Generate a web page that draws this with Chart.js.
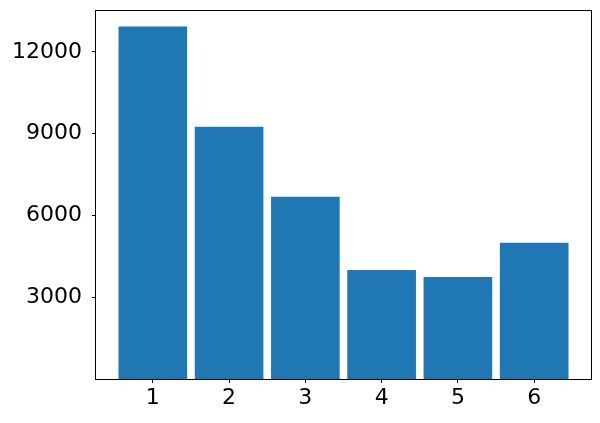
<!DOCTYPE html>
<html>
<head>
<meta charset="utf-8">
<script src="https://cdn.jsdelivr.net/npm/chart.js@4"></script>
<style>
  html, body { margin: 0; padding: 0; background: #fff; }
  #wrap { width: 600px; height: 423px; position: relative; }
</style>
</head>
<body>
<div id="wrap"><canvas id="chart"></canvas></div>
<script>
const categories = [1, 2, 3, 4, 5, 6];
const values = [12930, 9255, 6685, 4000, 3745, 4995];
const yTicks = [3000, 6000, 9000, 12000];

// draws the box round the plot like matplotlib
const frame = {
    id: 'frame',
    afterDraw(chart) {
        const { ctx, chartArea: a } = chart;
        ctx.save();
        ctx.strokeStyle = '#000';
        ctx.lineWidth = 1;
        ctx.strokeRect(Math.round(a.left) - 0.5, Math.round(a.top) + 0.5,
            Math.round(a.right - a.left) + 1, Math.round(a.bottom - a.top));
        ctx.restore();
    }
};

const tickFont = { family: 'DejaVu Sans', size: 22 };

new Chart(document.getElementById('chart'), {
    type: 'bar',
    data: {
        datasets: [{
            data: categories.map((c, i) => ({ x: c, y: values[i] })),
            backgroundColor: '#1f77b4',
            borderWidth: 0,
            barPercentage: 0.9,
            categoryPercentage: 1
        }]
    },
    options: {
        responsive: true,
        maintainAspectRatio: false,
        animation: false,
        layout: { padding: { left: 0, right: 9, top: 10, bottom: 0 } },
        plugins: { legend: { display: false }, tooltip: { enabled: false } },
        scales: {
            x: {
                type: 'linear',
                min: 0.255,
                max: 6.745,
                offset: false,
                afterBuildTicks: (scale) => { scale.ticks = categories.map(v => ({ value: v })); },
                afterFit: (scale) => {
                    scale.height = 44;
                    scale.paddingLeft = 0;
                    scale.paddingRight = 0;
                },
                grid: { display: true, offset: false, drawOnChartArea: false, tickLength: 4, tickColor: '#000' },
                border: { display: false },
                ticks: { color: '#000', font: tickFont, padding: 2, maxRotation: 0, callback: (v) => String(v) }
            },
            y: {
                min: 0,
                max: 13540,
                afterBuildTicks: (scale) => { scale.ticks = yTicks.map(v => ({ value: v })); },
                afterFit: (scale) => {
                    scale.width = 96;
                    scale.paddingTop = 0;
                    scale.paddingBottom = 0;
                },
                grid: { display: true, drawOnChartArea: false, tickLength: 4, tickColor: '#000' },
                border: { display: false },
                ticks: { color: '#000', font: tickFont, padding: 10, callback: (v) => String(v) }
            }
        }
    },
    plugins: [frame]
});
</script>
</body>
</html>
